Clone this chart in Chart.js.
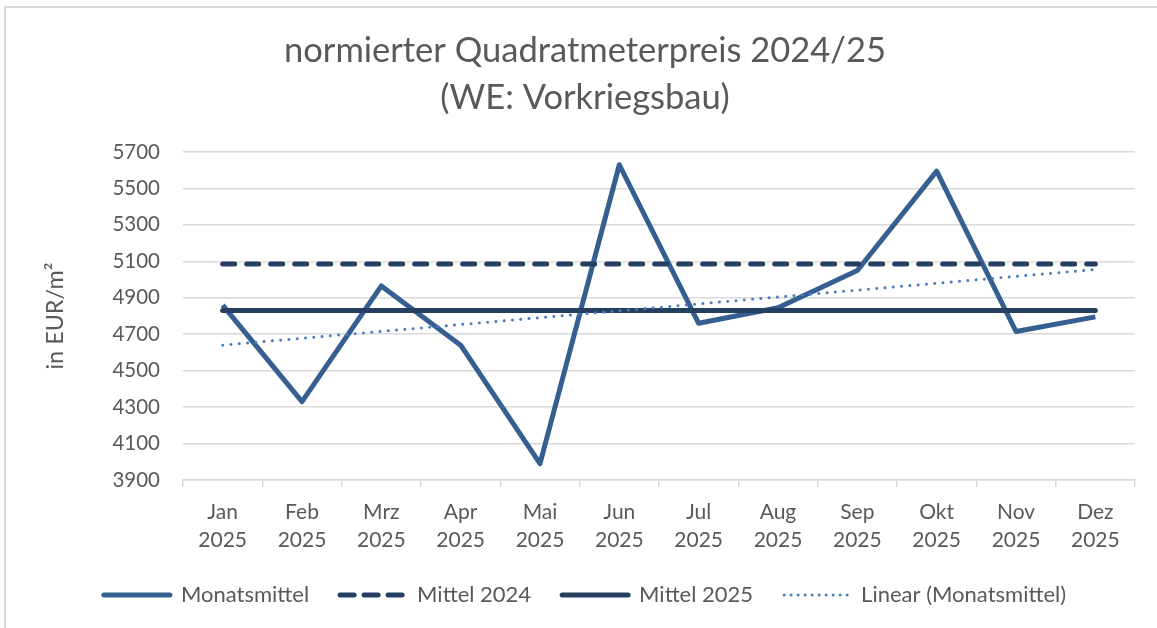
<!DOCTYPE html>
<html>
<head>
<meta charset="utf-8">
<script src="https://cdn.jsdelivr.net/npm/chart.js@4/dist/chart.umd.min.js"></script>
<style>
  html, body { margin: 0; padding: 0; background: #fff; }
  #wrap { position: relative; width: 1157px; height: 628px; overflow: hidden; }
  #frame { position: absolute; left: 4px; top: 6px; width: 1300px; height: 700px;
           border-left: 2px solid #d9d9d9; border-top: 2px solid #d9d9d9; }
  canvas { position: absolute; left: 0; top: 0; }
</style>
</head>
<body>
<div id="wrap">
  <div id="frame"></div>
  <canvas id="c" width="1157" height="628"></canvas>
</div>
<script>
const months = ['Jan', 'Feb', 'Mrz', 'Apr', 'Mai', 'Jun', 'Jul', 'Aug', 'Sep', 'Okt', 'Nov', 'Dez'];
const year = '2025';
const monatsmittel = [4860, 4330, 4965, 4640, 3990, 5630, 4760, 4845, 5050, 5595, 4715, 4795];
const mittel2024 = [5085, 5085, 5085, 5085, 5085, 5085, 5085, 5085, 5085, 5085, 5085, 5085];
const mittel2025 = [4830, 4830, 4830, 4830, 4830, 4830, 4830, 4830, 4830, 4830, 4830, 4830];
const linearTrend = [4640, null, null, null, null, null, null, null, null, null, null, 5055];
const yMin = 3900, yMax = 5700, yStep = 200;
const titleLines = ['normierter Quadratmeterpreis 2024/25', '(WE: Vorkriegsbau)'];
const yTitle = 'in EUR/m²';

const FONT = 'Lato';
const TXT = '#595959';
const GRID = '#d9d9d9';

const labels = months.map(m => [m, year]);

new Chart(document.getElementById('c'), {
  type: 'line',
  data: {
    labels: labels,
    datasets: [
      { label: 'Monatsmittel', data: monatsmittel, borderColor: '#365F91', backgroundColor: '#365F91',
        borderWidth: 5, pointRadius: 0, borderJoinStyle: 'round', borderCapStyle: 'butt', order: 4, tension: 0 },
      { label: 'Mittel 2024', data: mittel2024, borderColor: '#243F60', backgroundColor: '#243F60',
        borderWidth: 5, borderDash: [12, 12], borderCapStyle: 'round', pointRadius: 0, order: 3 },
      { label: 'Mittel 2025', data: mittel2025, borderColor: '#243F60', backgroundColor: '#243F60',
        borderWidth: 5, borderCapStyle: 'round', pointRadius: 0, order: 2 },
      { label: 'Linear (Monatsmittel)', data: linearTrend, borderColor: '#4A7EBB', backgroundColor: '#4A7EBB',
        borderWidth: 3, borderDash: [0.01, 8.3], borderCapStyle: 'round', pointRadius: 0, spanGaps: true, order: 1 }
    ]
  },
  options: {
    responsive: false,
    animation: false,
    layout: { padding: { left: 13, right: 0, top: 0, bottom: 12 } },
    plugins: {
      tooltip: { enabled: false },
      title: {
        display: true, text: titleLines, color: TXT,
        font: { family: FONT, size: 34.5, weight: 'normal', lineHeight: 47 / 34.5 },
        padding: { top: 27, bottom: 31 }
      },
      legend: {
        position: 'bottom',
        labels: {
          color: TXT,
          font: { family: FONT, size: 22 },
          usePointStyle: true,
          pointStyleWidth: 66,
          boxHeight: 22,
          padding: 31,
          sort: (a, b) => a.datasetIndex - b.datasetIndex,
          generateLabels: (chart) => {
            const items = Chart.defaults.plugins.legend.labels.generateLabels(chart);
            items.forEach(it => {
              const ds = chart.data.datasets[it.datasetIndex];
              it.pointStyle = 'line';
              it.lineCap = 'round';
              let dash = ds.borderDash || [];
              if (dash.length && dash[0] > 1) dash = [14, 10];
              if (dash.length && dash[0] < 1) dash = [0.01, 7];
              it.lineDash = dash;
              it.lineWidth = ds.borderWidth;
              it.strokeStyle = ds.borderColor;
              it.fillStyle = ds.borderColor;
            });
            return items;
          }
        }
      }
    },
    scales: {
      x: {
        offset: true,
        grid: { display: true, drawOnChartArea: false, drawTicks: true, tickLength: 7, color: GRID, lineWidth: 1.5, offset: true },
        border: { display: true, color: GRID, width: 1.5 },
        ticks: { color: TXT, font: { family: FONT, size: 21, lineHeight: 28 / 21 }, padding: 11, maxRotation: 0, autoSkip: false },
        afterFit: (s) => { s.height = 73; }
      },
      y: {
        min: yMin, max: yMax,
        grid: { color: GRID, lineWidth: 1.5, drawTicks: false },
        border: { display: false },
        ticks: { stepSize: yStep, color: TXT, font: { family: FONT, size: 20.5 }, padding: 23,
                 callback: (v) => String(v) },
        title: { display: true, text: yTitle, color: TXT, font: { family: FONT, size: 23.4, lineHeight: 28 / 23.4 }, padding: { top: 28, bottom: 0 } },
        afterFit: (s) => { s.width = 170; }
      },
      yRight: {
        position: 'right',
        display: true,
        grid: { display: false, drawTicks: false },
        border: { display: false },
        ticks: { display: false },
        afterFit: (s) => { s.width = 22; }
      }
    }
  }
});
</script>
</body>
</html>
